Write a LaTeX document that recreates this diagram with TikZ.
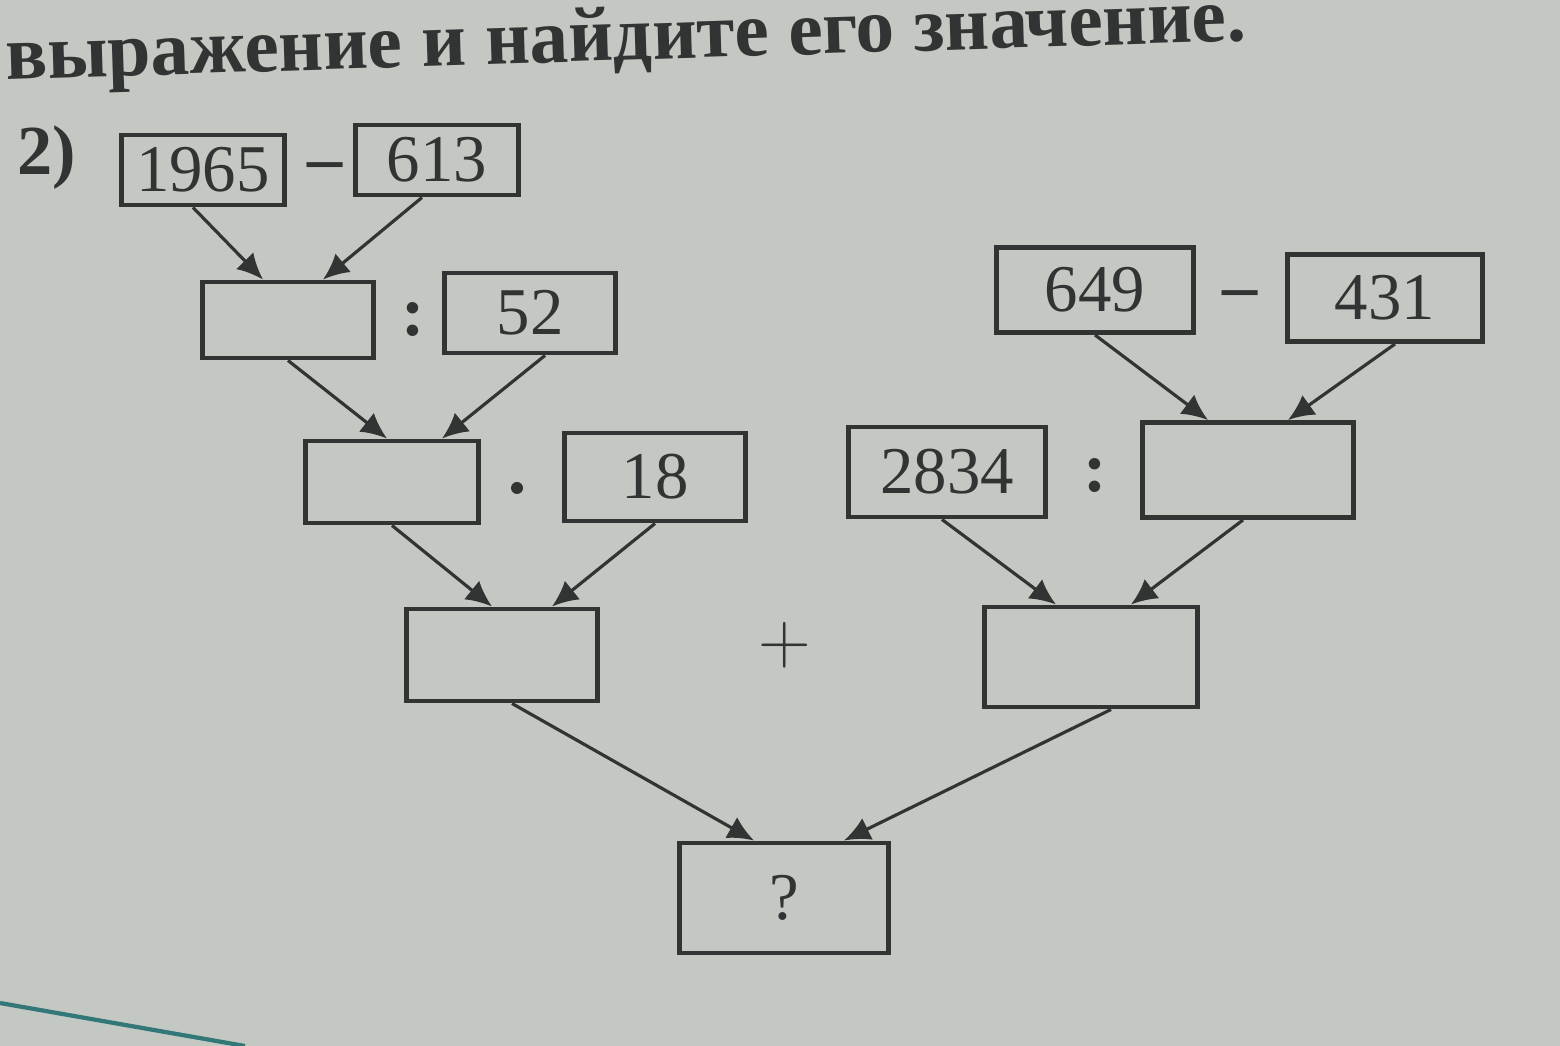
\documentclass[tikz,border=0pt]{standalone}
\usepackage{fontspec}
\setmainfont{Liberation Serif}
\usetikzlibrary{arrows.meta}
\definecolor{paper}{RGB}{196,200,195}
\definecolor{ink}{RGB}{50,52,52}
\definecolor{ruler}{RGB}{50,120,120}
\tikzset{
    every node/.style={align=center,text=ink,},
    numbox/.style={draw=ink,line width=1.4pt,rectangle,inner sep=0pt,font=\fontsize{19}{22}\selectfont,},
    sign/.style={font=\fontsize{20}{22}\selectfont\bfseries,},
    link/.style={draw=ink,line width=0.9pt,-{Latex[length=2.6mm,width=2.4mm]},},
}

\begin{document}
\begin{tikzpicture}[x=0.01cm,y=-0.01cm]
        \fill[paper] (0,0) rectangle (1560,1046);
        \useasboundingbox (0,0) rectangle (1560,1046);
        \draw[ruler,line width=1.2pt] (0,1003) -- (245,1046);

        \node[anchor=base west,rotate=1.8,font=\fontsize{22}{24}\selectfont\bfseries] (task) at (-6,80) {выражение и найдите его значение.};
        \node[sign] (item) at (47,158) {2)};

        % left branch
        \node[numbox,minimum width=1.63cm,minimum height=0.7cm] (n1965) at (203,170) {1965};
        \node[sign] (minus1) at (325,172) {–};
        \node[numbox,minimum width=1.63cm,minimum height=0.7cm] (n613) at (437,160) {613};

        \node[numbox,minimum width=1.7cm,minimum height=0.76cm] (boxA) at (288,320) {};
        \node[sign] (colon1) at (413,320) {:};
        \node[numbox,minimum width=1.7cm,minimum height=0.8cm] (n52) at (530,313) {52};

        \node[numbox,minimum width=1.73cm,minimum height=0.82cm] (boxB) at (392,482) {};
        \node[circle,fill=ink,inner sep=0pt,minimum size=0.12cm] (dot) at (517,488) {};
        \node[numbox,minimum width=1.8cm,minimum height=0.88cm] (n18) at (655,477) {18};

        \node[numbox,minimum width=1.9cm,minimum height=0.92cm] (boxC) at (502,655) {};

        % right branch
        \node[numbox,minimum width=1.96cm,minimum height=0.85cm] (n649) at (1095,290) {649};
        \node[sign] (minus2) at (1240,300) {–};
        \node[numbox,minimum width=1.95cm,minimum height=0.87cm] (n431) at (1385,298) {431};

        \node[numbox,minimum width=1.97cm,minimum height=0.9cm] (n2834) at (947,472) {2834};
        \node[sign] (colon2) at (1095,476) {:};
        \node[numbox,minimum width=2.1cm,minimum height=0.95cm] (boxD) at (1248,470) {};

        \node[numbox,minimum width=2.12cm,minimum height=1cm] (boxE) at (1091,657) {};

        \node[sign] (plus) at (785,645) {$+$};

        \node[numbox,minimum width=2.08cm,minimum height=1.1cm] (result) at (784,898) {?};

        \draw[link] ([xshift=-0.1cm]n1965.south) to ([xshift=-0.25cm]boxA.north);
        \draw[link] ([xshift=-0.15cm]n613.south) to ([xshift=0.35cm]boxA.north);

        \draw[link] (boxA.south) to ([xshift=-0.05cm]boxB.north);
        \draw[link] ([xshift=0.15cm]n52.south) to ([xshift=0.5cm]boxB.north);

        \draw[link] (boxB.south) to ([xshift=-0.1cm]boxC.north);
        \draw[link] (n18.south) to ([xshift=0.5cm]boxC.north);

        \draw[link] (n649.south) to ([xshift=-0.4cm]boxD.north);
        \draw[link] ([xshift=0.1cm]n431.south) to ([xshift=0.4cm]boxD.north);

        \draw[link] ([xshift=-0.05cm]n2834.south) to ([xshift=-0.35cm]boxE.north);
        \draw[link] ([xshift=-0.05cm]boxD.south) to ([xshift=0.4cm]boxE.north);

        \draw[link] ([xshift=0.1cm]boxC.south) to ([xshift=-0.3cm]result.north);
        \draw[link] ([xshift=0.2cm]boxE.south) to ([xshift=0.6cm]result.north);
    \end{tikzpicture}
\end{document}
